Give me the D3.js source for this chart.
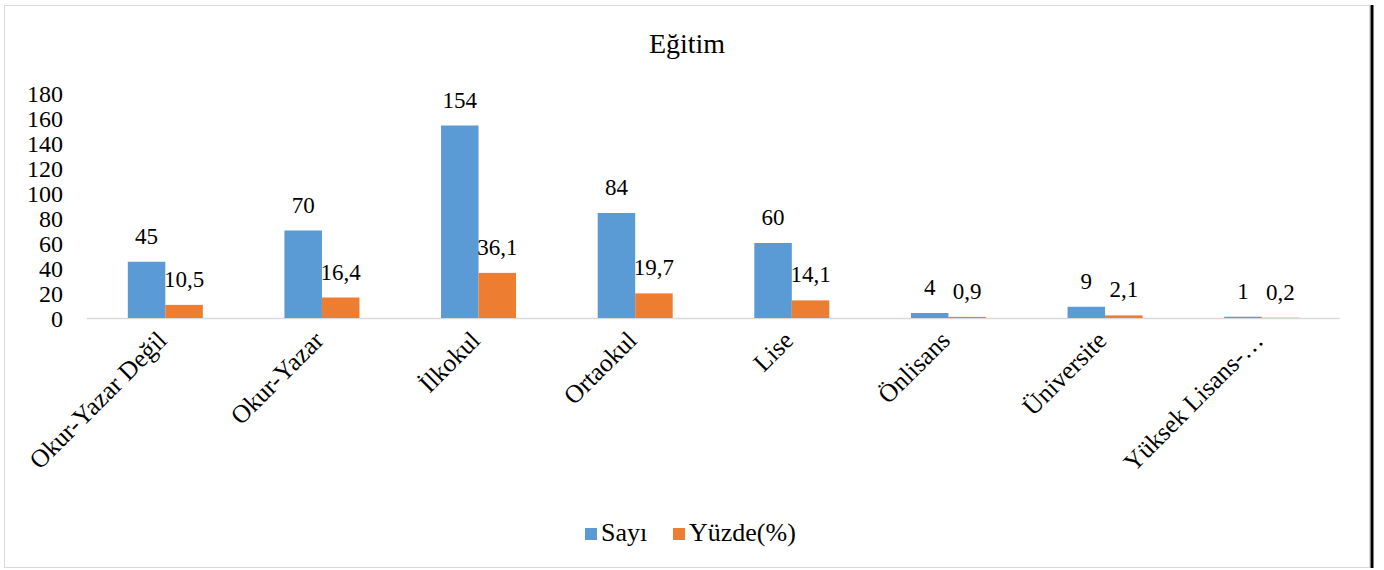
<!DOCTYPE html>
<html>
<head>
<meta charset="utf-8">
<script src="https://cdn.jsdelivr.net/npm/d3@7/dist/d3.min.js"></script>
<style>
  html, body { margin: 0; padding: 0; background: #fff; }
  svg { display: block; }
  svg text { font-family: "Liberation Serif", "Times New Roman", serif !important; fill: #000; }
</style>
</head>
<body>
<svg id="chart" width="1384" height="570" font-family="Liberation Serif, serif"></svg>
<script>
const categories = ["Okur-Yazar Değil", "Okur-Yazar", "İlkokul", "Ortaokul", "Lise", "Önlisans", "Üniversite", "Yüksek Lisans-…"];
const seriesNames = ["Sayı", "Yüzde(%)"];
const sayi = [45, 70, 154, 84, 60, 4, 9, 1];
const yuzde = [10.5, 16.4, 36.1, 19.7, 14.1, 0.9, 2.1, 0.2];
const yuzdeLabels = ["10,5", "16,4", "36,1", "19,7", "14,1", "0,9", "2,1", "0,2"];
const yTicks = [0, 20, 40, 60, 80, 100, 120, 140, 160, 180];
const colors = ["#5B9BD5", "#ED7D31"];

const svg = d3.select("#chart");

// outer frame
svg.append("rect").attr("x", 4.5).attr("y", 5.5).attr("width", 1365).attr("height", 562)
  .attr("fill", "#fff").attr("stroke", "#d9d9d9").attr("stroke-width", 1);
svg.append("line").attr("x1", 1372).attr("x2", 1372).attr("y1", 5).attr("y2", 568)
  .attr("stroke", "#000").attr("stroke-width", 3);

const x = d3.scaleBand().domain(categories).range([87, 1340]).padding(0);
const xs = d3.scaleBand().domain(seriesNames).range([0, 75]);
const y = d3.scaleLinear().domain([0, 180]).range([318, 93]);

// title
svg.append("text").attr("x", 687).attr("y", 53).attr("text-anchor", "middle")
  .style("font-size", "28px").text("Eğitim");

// y axis labels
const yAxis = d3.axisLeft(y).tickValues(yTicks).tickSize(0).tickPadding(0).tickFormat(d3.format("d"));
const yg = svg.append("g").attr("transform", "translate(63,0)").call(yAxis);
yg.attr("font-family", null);
yg.select(".domain").remove();
yg.selectAll("text").style("font-size", "24px").attr("fill", "#000").attr("dy", "0.34em");

// x axis line
svg.append("line").attr("x1", 87).attr("x2", 1340).attr("y1", 318.5).attr("y2", 318.5)
  .attr("stroke", "#d9d9d9").attr("stroke-width", 1.3);

const seriesData = [sayi, yuzde];
const labelData = [sayi.map(String), yuzdeLabels];

seriesData.forEach((vals, si) => {
  const g = svg.append("g");
  g.selectAll("rect").data(vals).enter().append("rect")
    .attr("x", (d, i) => x(categories[i]) + x.bandwidth() / 2 - 37.5 + xs(seriesNames[si]))
    .attr("width", xs.bandwidth())
    .attr("y", d => y(d))
    .attr("height", d => y(0) - y(d))
    .attr("fill", colors[si]);
  g.selectAll("text").data(vals).enter().append("text")
    .attr("x", (d, i) => x(categories[i]) + x.bandwidth() / 2 - 37.5 + xs(seriesNames[si]) + xs.bandwidth() / 2)
    .attr("y", d => y(d) - 18)
    .attr("text-anchor", "middle")
    .style("font-size", "23px")
    .text((d, i) => labelData[si][i]);
});

// x labels rotated
svg.append("g").selectAll("text").data(categories).enter().append("text")
  .attr("transform", d => `translate(${x(d) + x.bandwidth() / 2 + 3},${342}) rotate(-45)`)
  .attr("text-anchor", "end")
  .style("font-size", "25.5px")
  .text(d => d);

// legend
const legend = svg.append("g");
const legendItems = [{ name: seriesNames[0], x: 585 }, { name: seriesNames[1], x: 673 }];
legendItems.forEach((it, i) => {
  legend.append("rect").attr("x", it.x).attr("y", 528).attr("width", 12).attr("height", 12).attr("fill", colors[i]);
  legend.append("text").attr("x", it.x + 16).attr("y", 541).style("font-size", "26px").text(it.name);
});
</script>
</body>
</html>
